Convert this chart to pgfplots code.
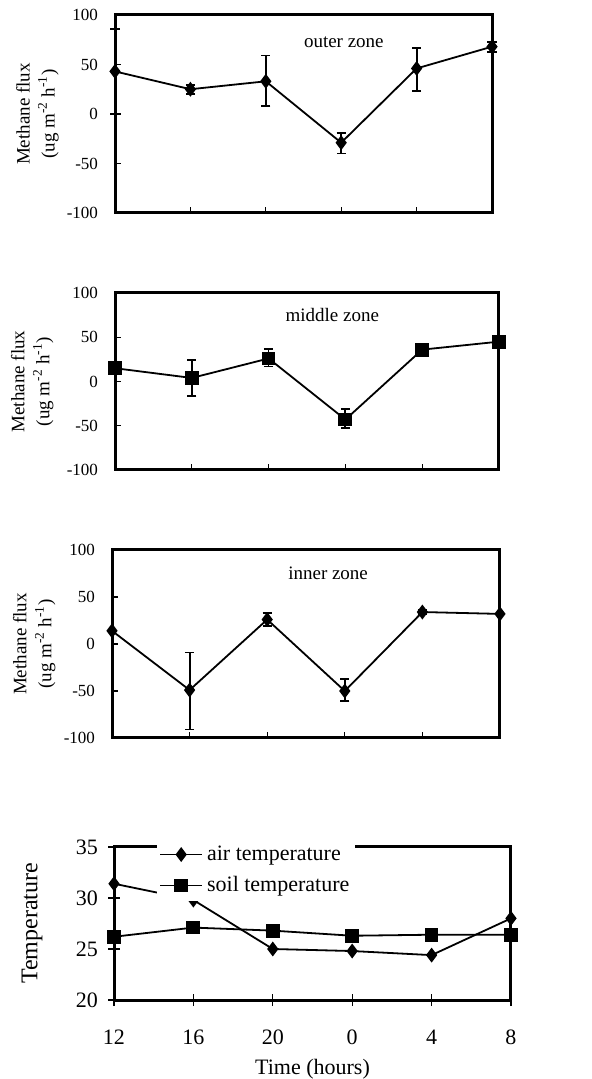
\documentclass[border=0pt]{standalone}
\usepackage{pgfplots}
\pgfplotsset{compat=1.18}
\usepackage{fontspec}
\setmainfont{Liberation Serif}
\newcommand{\fluxlabel}{\fontsize{9.5}{12.5}\selectfont\begin{tabular}{@{}c@{}}Methane flux\\(ug m\textsuperscript{-2} h\textsuperscript{-1})\end{tabular}}
\begin{document}
\begin{tikzpicture}
\useasboundingbox (0pt,0pt) rectangle (295.5pt,539.5pt);
\pgfplotsset{
  flux/.style={
    scale only axis, anchor=south west,
    xmin=0, xmax=5, ymin=-100, ymax=100,
    xtick={0,1,2,3,4,5}, xticklabels={},
    ytick={-100,-50,0,50,100}, yticklabels={-100,-50,0,50,100},
    tick align=inside, major tick length=3pt,
    xtick pos=bottom, ytick pos=left,
    axis line style={line width=1.5pt},
    tick style={line width=0.6pt, black},
    yticklabel style={font=\fontsize{8.5}{10}\selectfont, xshift=-5pt},
    every axis y label/.style={at={(axis description cs:0,0.5)}, xshift=-39pt, rotate=90, anchor=center, inner sep=0pt},
    ylabel={\fluxlabel},
    clip=false,
    error bars/error bar style={line width=0.9pt},
    error bars/error mark options={rotate=90, mark size=2.3pt, line width=0.9pt},
  },
}
% outer zone
\begin{axis}[flux, at={(57.5pt,433pt)}, width=188.5pt, height=99pt]
\addplot[black, line width=0.9pt, mark=diamond*, mark size=3pt,
  error bars/.cd, y dir=both, y explicit]
  coordinates {
  (0,43) += (0,43) -= (0,43)
  (1,25) += (0,4) -= (0,5)
  (2,33) += (0,26) -= (0,25)
  (3,-29) += (0,10) -= (0,11)
  (4,46) += (0,21) -= (0,23)
  (5,68) += (0,5) -= (0,5)
  };
\node[font=\fontsize{9.5}{11}\selectfont] at (axis description cs:0.607,0.86) {outer zone};
\end{axis}
% middle zone
\begin{axis}[flux, at={(57.5pt,304.5pt)}, width=192pt, height=88.5pt,
  every axis y label/.append style={yshift=2.5pt}]
\addplot[black, line width=0.9pt, mark=square*, mark size=3pt,
  error bars/.cd, y dir=both, y explicit]
  coordinates {
  (0,15) += (0,0) -= (0,0)
  (1,4) += (0,20) -= (0,20)
  (2,26) += (0,11) -= (0,9)
  (3,-43) += (0,12) -= (0,10)
  (4,36) += (0,3) -= (0,3)
  (5,45) += (0,3) -= (0,3)
  };
\node[font=\fontsize{9.5}{11}\selectfont] at (axis description cs:0.566,0.876) {middle zone};
\end{axis}
% inner zone
\begin{axis}[flux, at={(56pt,170.5pt)}, width=194pt, height=94pt]
\addplot[black, line width=0.9pt, mark=diamond*, mark size=3pt,
  error bars/.cd, y dir=both, y explicit]
  coordinates {
  (0,14) += (0,0) -= (0,0)
  (1,-49) += (0,40) -= (0,42)
  (2,26) += (0,7) -= (0,7)
  (3,-50) += (0,13) -= (0,11)
  (4,34) += (0,2) -= (0,2)
  (5,32) += (0,0) -= (0,0)
  };
\node[font=\fontsize{9.5}{11}\selectfont] at (axis description cs:0.557,0.878) {inner zone};
\end{axis}
% temperature
\begin{axis}[scale only axis, anchor=south west, at={(57pt,39.5pt)}, width=198.5pt, height=76.5pt,
  xmin=0, xmax=5, ymin=20, ymax=35,
  xtick={0,1,2,3,4,5}, xticklabels={12,16,20,0,4,8},
  ytick={20,25,30,35},
  tick align=center, major tick length=6pt,
  xtick pos=bottom, ytick pos=left,
  axis line style={line width=1.5pt},
  tick style={line width=0.6pt, black},
  /pgf/number format/assume math mode=true,
  xticklabel style={font=\fontsize{11}{13}\selectfont, yshift=-8.5pt},
  yticklabel style={font=\fontsize{11}{13}\selectfont, xshift=-1.5pt},
  xlabel={Time (hours)},
  every axis x label/.style={at={(axis description cs:0.5,0)}, yshift=-34.5pt, anchor=center, font=\fontsize{11}{13}\selectfont},
  ylabel={Temperature},
  every axis y label/.style={at={(axis description cs:0,0.5)}, xshift=-41pt, rotate=90, anchor=center, font=\fontsize{12}{14}\selectfont},
  clip=false,
  legend style={at={(axis description cs:0.108,1.05)}, anchor=north west, fill=white, draw=none,
    font=\fontsize{11}{13}\selectfont, inner sep=1pt, row sep=2.5pt, cells={anchor=west}},
  legend image code/.code={\draw[mark repeat=2, mark phase=2, #1] plot coordinates {(0pt,0pt) (10.5pt,0pt) (21pt,0pt)};},
]
\addplot[black, line width=0.9pt, mark=diamond*, mark size=3pt]
  coordinates {(0,31.4) (1,29.8) (2,25.0) (3,24.8) (4,24.4) (5,28.0)};
\addlegendentry{air temperature}
\addplot[black, line width=0.9pt, mark=square*, mark size=3pt]
  coordinates {(0,26.2) (1,27.1) (2,26.8) (3,26.3) (4,26.4) (5,26.4)};
\addlegendentry{soil temperature}
\end{axis}
\end{tikzpicture}
\end{document}
